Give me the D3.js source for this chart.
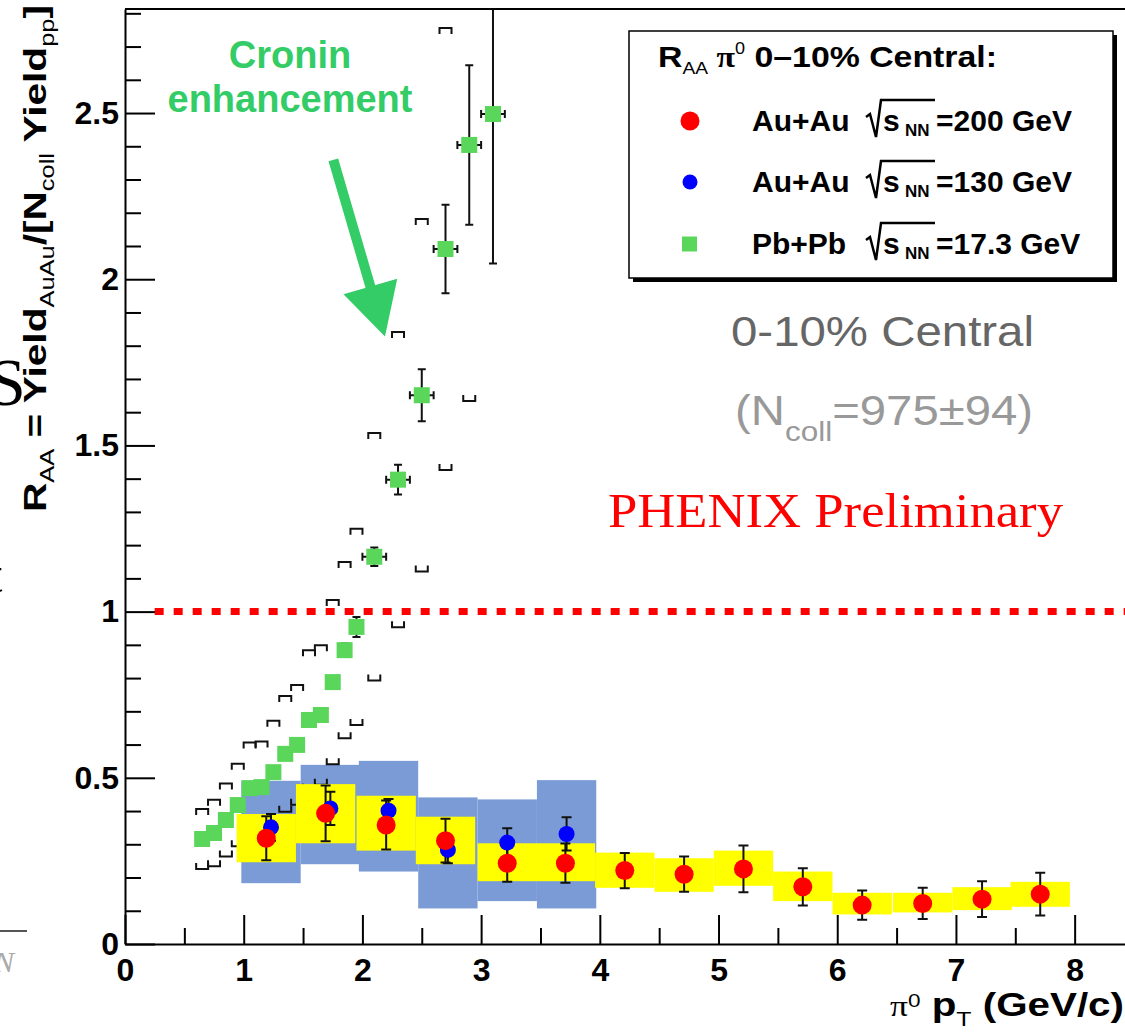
<!DOCTYPE html>
<html>
<head>
<meta charset="utf-8">
<script src="https://cdn.jsdelivr.net/npm/d3@7"></script>
<style>
  body { margin: 0; background: #fff; }
  svg { display: block; }
</style>
</head>
<body>
<div id="chart"></div>
<script>
(function(){
  // Pb+Pb sqrt(s_NN)=17.3 GeV (green squares)
  const pbX    = [0.65, 0.75, 0.85, 0.95, 1.05, 1.15, 1.25, 1.35, 1.45, 1.55, 1.65, 1.75, 1.85, 1.95, 2.1, 2.3, 2.5, 2.7, 2.9, 3.1];
  const pbY    = [0.316, 0.334, 0.373, 0.418, 0.469, 0.472, 0.517, 0.572, 0.599, 0.674, 0.689, 0.788, 0.884, 0.954, 1.165, 1.397, 1.651, 2.091, 2.404, 2.497];
  const pbErr  = [0, 0, 0, 0, 0, 0, 0, 0, 0, 0, 0, 0, 0.02, 0.03, 0.028, 0.045, 0.078, 0.133, 0.24, 0.45];
  const pbXErr = [0, 0, 0, 0, 0, 0, 0, 0, 0, 0, 0, 0, 0, 0, 0.1, 0.1, 0.1, 0.1, 0.1, 0.1];
  const pbSys  = [0.09, 0.10, 0.11, 0.124, 0.137, 0.137, 0.155, 0.174, 0.18, 0.21, 0.21, 0.247, 0.265, 0.295, 0.372, 0.444, 0.53, 0.665, 0.77, null];

  // Au+Au sqrt(s_NN)=200 GeV (red circles, yellow boxes)
  const au200X     = [1.19, 1.69, 2.20, 2.70, 3.22, 3.71, 4.21, 4.71, 5.21, 5.71, 6.21, 6.72, 7.22, 7.71];
  const au200Y     = [0.318, 0.393, 0.358, 0.311, 0.243, 0.243, 0.221, 0.210, 0.226, 0.172, 0.117, 0.122, 0.135, 0.150];
  const au200Err   = [0.066, 0.084, 0.074, 0.066, 0.056, 0.059, 0.053, 0.053, 0.070, 0.056, 0.044, 0.047, 0.054, 0.064];
  const au200SysHi = [0.391, 0.481, 0.446, 0.383, 0.303, 0.303, 0.275, 0.258, 0.281, 0.218, 0.154, 0.154, 0.171, 0.187];
  const au200SysLo = [0.246, 0.303, 0.281, 0.240, 0.189, 0.189, 0.169, 0.157, 0.175, 0.129, 0.089, 0.095, 0.102, 0.112];

  // Au+Au sqrt(s_NN)=130 GeV (blue circles, blue boxes)
  const au130X     = [1.23, 1.73, 2.22, 2.72, 3.22, 3.72];
  const au130Y     = [0.351, 0.408, 0.401, 0.283, 0.305, 0.331];
  const au130Err   = [0.04, 0.05, 0.035, 0.04, 0.043, 0.05];
  const au130SysHi = [0.491, 0.539, 0.551, 0.441, 0.435, 0.493];
  const au130SysLo = [0.183, 0.240, 0.218, 0.107, 0.129, 0.107];

  const boxHalf = 0.25;

  const xTickValues = [0, 1, 2, 3, 4, 5, 6, 7, 8];
  const xTickLabels = ["0", "1", "2", "3", "4", "5", "6", "7", "8"];
  const xMinorValues = [0.5, 1.5, 2.5, 3.5, 4.5, 5.5, 6.5, 7.5];
  const yTickValues = [0, 0.5, 1, 1.5, 2, 2.5];
  const yTickLabels = ["0", "0.5", "1", "1.5", "2", "2.5"];

  const width = 1125;
  const height = 1033;
  const boldFont = "Liberation Sans, Arial, sans-serif";

  const svg = d3.select("#chart")
    .append("svg")
    .attr("width", width)
    .attr("height", height);

  svg.append("rect").attr("width", width).attr("height", height).attr("fill", "#fff");

  const x = d3.scaleLinear().domain([0, 8.5]).range([125, 1134]);
  const y = d3.scaleLinear().domain([0, 2.813]).range([944, 9]);

  // bits of the slide behind the plot, cut at the left edge
  svg.append("text").attr("x", -12).attr("y", 405)
    .attr("font-family", "Liberation Serif, serif").attr("font-size", 68).text("S");
  svg.append("text").attr("x", -12).attr("y", 592)
    .attr("font-family", "Liberation Serif, serif").attr("font-size", 52).text("t");
  svg.append("line").attr("x1", 0).attr("x2", 27).attr("y1", 931).attr("y2", 931)
    .attr("stroke", "#555").attr("stroke-width", 2);
  svg.append("text").attr("x", -6).attr("y", 972)
    .attr("font-family", "Liberation Serif, serif").attr("font-style", "italic")
    .attr("font-size", 30).attr("fill", "#aaa").text("N");

  svg.append("clipPath").attr("id", "plot-clip")
    .append("rect").attr("x", 125).attr("y", 9).attr("width", 1010).attr("height", 935);

  const plot = svg.append("g").attr("clip-path", "url(#plot-clip)");

  const au130 = au130X.map((d, i) => ({ x: d, y: au130Y[i], err: au130Err[i], hi: au130SysHi[i], lo: au130SysLo[i] }));
  const au200 = au200X.map((d, i) => ({ x: d, y: au200Y[i], err: au200Err[i], hi: au200SysHi[i], lo: au200SysLo[i] }));
  const pb = pbX.map((d, i) => ({ x: d, y: pbY[i], err: pbErr[i], xerr: pbXErr[i], sys: pbSys[i] }));

  // blue systematic boxes (130 GeV)
  plot.selectAll(".box130")
    .data(au130)
    .enter().append("rect")
    .attr("class", "box130")
    .attr("x", d => x(d.x - boxHalf))
    .attr("width", d => x(d.x + boxHalf) - x(d.x - boxHalf))
    .attr("y", d => y(d.hi))
    .attr("height", d => y(d.lo) - y(d.hi))
    .attr("fill", "#7b9bd6");

  // Pb+Pb systematic brackets
  const pbSysData = pb.filter(d => d.sys != null);
  plot.selectAll(".bracket-up")
    .data(pbSysData)
    .enter().append("path")
    .attr("class", "bracket-up")
    .attr("d", d => {
      const cx = x(d.x), cy = y(d.y + d.sys);
      return `M${cx - 6},${cy + 6}V${cy}H${cx + 6}V${cy + 6}`;
    })
    .attr("fill", "none").attr("stroke", "#111").attr("stroke-width", 2);
  plot.selectAll(".bracket-down")
    .data(pbSysData)
    .enter().append("path")
    .attr("class", "bracket-down")
    .attr("d", d => {
      const cx = x(d.x), cy = y(d.y - d.sys);
      return `M${cx - 6},${cy - 6}V${cy}H${cx + 6}V${cy - 6}`;
    })
    .attr("fill", "none").attr("stroke", "#111").attr("stroke-width", 2);

  // yellow systematic boxes (200 GeV)
  plot.selectAll(".box200")
    .data(au200)
    .enter().append("rect")
    .attr("class", "box200")
    .attr("x", d => x(d.x - boxHalf))
    .attr("width", d => x(d.x + boxHalf) - x(d.x - boxHalf))
    .attr("y", d => y(d.hi))
    .attr("height", d => y(d.lo) - y(d.hi))
    .attr("fill", "#ffff00");

  // R_AA = 1 line
  plot.append("line")
    .attr("x1", x(0.25)).attr("x2", x(8.5))
    .attr("y1", y(1)).attr("y2", y(1))
    .attr("stroke", "#ff0000").attr("stroke-width", 7)
    .attr("stroke-dasharray", "9,10");

  // Pb+Pb error bars and squares
  const pbErrData = pb.filter(d => d.err > 0);
  plot.selectAll(".pb-err")
    .data(pbErrData)
    .enter().append("path")
    .attr("class", "pb-err")
    .attr("d", d => {
      const cx = x(d.x), y1 = y(d.y + d.err), y2 = y(d.y - d.err);
      return `M${cx},${y1}V${y2}M${cx - 4},${y1}H${cx + 4}M${cx - 4},${y2}H${cx + 4}`;
    })
    .attr("fill", "none").attr("stroke", "#111").attr("stroke-width", 2);
  plot.selectAll(".pb-xerr")
    .data(pb.filter(d => d.xerr > 0))
    .enter().append("path")
    .attr("class", "pb-xerr")
    .attr("d", d => {
      const cy = y(d.y), x1 = x(d.x - d.xerr), x2 = x(d.x + d.xerr);
      return `M${x1},${cy}H${x2}M${x1},${cy - 4}V${cy + 4}M${x2},${cy - 4}V${cy + 4}`;
    })
    .attr("fill", "none").attr("stroke", "#111").attr("stroke-width", 2);
  plot.selectAll(".pb-dot")
    .data(pb)
    .enter().append("rect")
    .attr("class", "pb-dot")
    .attr("x", d => x(d.x) - 8)
    .attr("y", d => y(d.y) - 8)
    .attr("width", 16).attr("height", 16)
    .attr("fill", "#5ad65a");

  // Au+Au error bars and points
  function errBars(cls, data) {
    plot.selectAll("." + cls)
      .data(data)
      .enter().append("path")
      .attr("class", cls)
      .attr("d", d => {
        const cx = x(d.x), y1 = y(d.y + d.err), y2 = y(d.y - d.err);
        return `M${cx},${y1}V${y2}M${cx - 5},${y1}H${cx + 5}M${cx - 5},${y2}H${cx + 5}`;
      })
      .attr("fill", "none").attr("stroke", "#111").attr("stroke-width", 2);
  }
  errBars("err130", au130);
  errBars("err200", au200);

  plot.selectAll(".dot130")
    .data(au130)
    .enter().append("circle")
    .attr("class", "dot130")
    .attr("cx", d => x(d.x)).attr("cy", d => y(d.y))
    .attr("r", 8).attr("fill", "#0000ff");
  plot.selectAll(".dot200")
    .data(au200)
    .enter().append("circle")
    .attr("class", "dot200")
    .attr("cx", d => x(d.x)).attr("cy", d => y(d.y))
    .attr("r", 9.5).attr("fill", "#ff0000");

  // Axes
  function styleAxis(g) {
    g.selectAll("path, line").attr("stroke", "#000").attr("stroke-width", 2);
    g.attr("font-family", boldFont).attr("font-weight", "bold").attr("font-size", 32);
    g.selectAll("text").attr("fill", "#000");
  }

  svg.append("g")
    .attr("transform", "translate(125,0)")
    .call(d3.axisLeft(y).tickValues(y.ticks(28).filter(v => Math.abs(v * 2 - Math.round(v * 2)) > 1e-6))
      .tickSize(-16).tickFormat(""))
    .call(g => g.select(".domain").remove())
    .call(styleAxis);

  svg.append("g")
    .attr("transform", "translate(125,0)")
    .call(d3.axisLeft(y).tickValues(yTickValues).tickFormat((d, i) => yTickLabels[i])
      .tickSize(-30).tickSizeOuter(0).tickPadding(6))
    .call(styleAxis);

  svg.append("g")
    .attr("transform", "translate(0,944)")
    .call(d3.axisBottom(x).tickValues(xMinorValues).tickSize(-16).tickFormat(""))
    .call(g => g.select(".domain").remove())
    .call(styleAxis);

  svg.append("g")
    .attr("transform", "translate(0,944)")
    .call(d3.axisBottom(x).tickValues(xTickValues).tickFormat((d, i) => xTickLabels[i])
      .tickSize(-29).tickSizeOuter(0).tickPadding(14))
    .call(styleAxis);

  // top frame
  svg.append("line")
    .attr("x1", 125).attr("x2", 1134).attr("y1", y(2.813)).attr("y2", y(2.813))
    .attr("stroke", "#000").attr("stroke-width", 2);

  // axis titles
  const xTitle = svg.append("text")
    .attr("x", 890).attr("y", 1016)
    .attr("font-family", boldFont).attr("font-weight", "bold").attr("font-size", 34)
    .attr("textLength", 234).attr("lengthAdjust", "spacingAndGlyphs");
  xTitle.append("tspan").attr("font-family", "Liberation Serif, serif").attr("font-weight", "normal").attr("font-size", 30).text("\u03c0");
  xTitle.append("tspan").attr("font-size", 19).attr("font-weight", "normal").attr("dy", -9).text("0");
  xTitle.append("tspan").attr("dy", 9).text(" p");
  xTitle.append("tspan").attr("font-size", 21).attr("font-weight", "normal").attr("dy", 10).text("T");
  xTitle.append("tspan").attr("dy", -10).text(" (GeV/c)");

  const yTitle = svg.append("text")
    .attr("transform", "translate(46,512) rotate(-90)")
    .attr("font-family", boldFont).attr("font-weight", "bold").attr("font-size", 32)
    .attr("textLength", 507).attr("lengthAdjust", "spacingAndGlyphs");
  yTitle.append("tspan").text("R");
  yTitle.append("tspan").attr("font-size", 20).attr("font-weight", "normal").attr("dy", 8).text("AA");
  yTitle.append("tspan").attr("dy", -8).text(" = Yield");
  yTitle.append("tspan").attr("font-size", 20).attr("font-weight", "normal").attr("dy", 8).text("AuAu");
  yTitle.append("tspan").attr("dy", -8).text("/[N");
  yTitle.append("tspan").attr("font-size", 20).attr("font-weight", "normal").attr("dy", 8).text("coll");
  yTitle.append("tspan").attr("dy", -8).text(" Yield");
  yTitle.append("tspan").attr("font-size", 20).attr("font-weight", "normal").attr("dy", 8).text("pp");
  yTitle.append("tspan").attr("dy", -8).text("]");

  // Cronin annotation
  const cronin = "#33cc66";
  svg.append("text").attr("x", 290).attr("y", 68).attr("text-anchor", "middle")
    .attr("font-family", boldFont).attr("font-weight", "bold").attr("font-size", 38)
    .attr("fill", cronin).text("Cronin");
  svg.append("text").attr("x", 290).attr("y", 112).attr("text-anchor", "middle")
    .attr("font-family", boldFont).attr("font-weight", "bold").attr("font-size", 38)
    .attr("fill", cronin).text("enhancement");

  const arrowFrom = [1.755, 2.359], arrowTo = [2.19, 1.828];
  const sx = x(arrowFrom[0]), sy = y(arrowFrom[1]), tx = x(arrowTo[0]), ty = y(arrowTo[1]);
  const len = Math.hypot(tx - sx, ty - sy), ux = (tx - sx) / len, uy = (ty - sy) / len;
  const bx = tx - ux * 52, by = ty - uy * 52;
  svg.append("line").attr("x1", sx).attr("y1", sy).attr("x2", bx + ux * 4).attr("y2", by + uy * 4)
    .attr("stroke", cronin).attr("stroke-width", 10);
  svg.append("path")
    .attr("d", `M${tx},${ty}L${bx - uy * 28},${by + ux * 28}L${bx + uy * 28},${by - ux * 28}Z`)
    .attr("fill", cronin);

  // Legend
  const legend = svg.append("g").attr("class", "legend");
  legend.append("rect").attr("x", 633).attr("y", 35).attr("width", 484).attr("height", 247).attr("fill", "#000");
  legend.append("rect").attr("x", 629).attr("y", 31).attr("width", 484).attr("height", 247)
    .attr("fill", "#fff").attr("stroke", "#000").attr("stroke-width", 1.5);

  const lt = legend.append("text").attr("x", 658).attr("y", 67)
    .attr("font-family", boldFont).attr("font-weight", "bold").attr("font-size", 30)
    .attr("textLength", 339).attr("lengthAdjust", "spacingAndGlyphs");
  lt.append("tspan").text("R");
  lt.append("tspan").attr("font-size", 17).attr("font-weight", "normal").attr("dy", 7).text("AA");
  lt.append("tspan").attr("font-family", "Liberation Serif, serif").attr("font-size", 30).attr("dy", -7).text(" \u03c0");
  lt.append("tspan").attr("font-size", 16).attr("font-weight", "normal").attr("dy", -13).text("0");
  lt.append("tspan").attr("dy", 13).text(" 0\u201310% Central:");

  const legendRows = [
    { sys: "Au+Au", energy: "=200 GeV", kind: "red" },
    { sys: "Au+Au", energy: "=130 GeV", kind: "blue" },
    { sys: "Pb+Pb", energy: "=17.3 GeV", kind: "green" }
  ];
  const rowBase = [131, 192, 254];

  legendRows.forEach((r, i) => {
    const b = rowBase[i];
    const my = b - 10;
    if (r.kind === "red") legend.append("circle").attr("cx", 690).attr("cy", my).attr("r", 9.5).attr("fill", "#ff0000");
    if (r.kind === "blue") legend.append("circle").attr("cx", 690).attr("cy", my).attr("r", 7.5).attr("fill", "#0000ff");
    if (r.kind === "green") legend.append("rect").attr("x", 682).attr("y", my - 7.5).attr("width", 15).attr("height", 15).attr("fill", "#5ad65a");

    legend.append("text").attr("x", 752).attr("y", b)
      .attr("font-family", boldFont).attr("font-weight", "bold").attr("font-size", 30).text(r.sys);
    const x0 = 866;
    legend.append("path")
      .attr("d", `M${x0},${b - 14}L${x0 + 4},${b - 17}L${x0 + 10},${b + 6}L${x0 + 15},${b - 31}H${x0 + 69}`)
      .attr("fill", "none").attr("stroke", "#000").attr("stroke-width", 2.5);
    legend.append("text").attr("x", x0 + 17).attr("y", b)
      .attr("font-family", boldFont).attr("font-weight", "bold").attr("font-size", 30).text("s");
    legend.append("text").attr("x", x0 + 39).attr("y", b + 5)
      .attr("font-family", boldFont).attr("font-weight", "bold").attr("font-size", 17).text("NN");
    legend.append("text").attr("x", x0 + 70).attr("y", b)
      .attr("font-family", boldFont).attr("font-weight", "bold").attr("font-size", 30).text(r.energy);
  });

  // Annotations
  svg.append("text").attr("x", 731).attr("y", 346)
    .attr("font-family", boldFont).attr("font-size", 42).attr("fill", "#666")
    .attr("textLength", 303).attr("lengthAdjust", "spacingAndGlyphs").text("0-10% Central");
  const nc = svg.append("text").attr("x", 735).attr("y", 425)
    .attr("font-family", boldFont).attr("font-size", 42).attr("fill", "#999")
    .attr("textLength", 298).attr("lengthAdjust", "spacingAndGlyphs");
  nc.append("tspan").text("(N");
  nc.append("tspan").attr("font-size", 28).attr("dy", 16).text("coll");
  nc.append("tspan").attr("dy", -16).text("=975\u00b194)");
  svg.append("text").attr("x", 608).attr("y", 527)
    .attr("font-family", "Liberation Serif, Times New Roman, serif").attr("font-size", 48)
    .attr("fill", "#ff0000")
    .attr("textLength", 455).attr("lengthAdjust", "spacingAndGlyphs").text("PHENIX Preliminary");
})();
</script>
</body>
</html>
